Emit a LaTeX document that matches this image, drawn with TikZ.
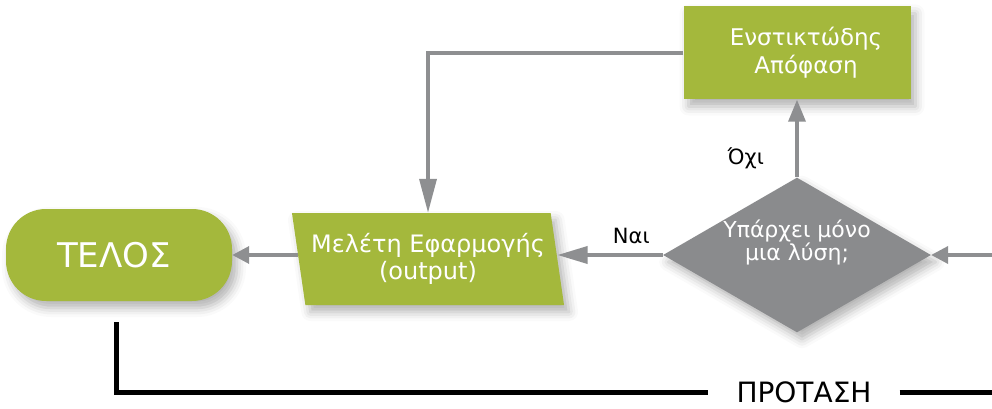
\documentclass[tikz,border=0pt]{standalone}
\usepackage{fontspec}
\setmainfont{DejaVu Sans}
\usetikzlibrary{shapes.geometric}
\usetikzlibrary{arrows.meta}
\usetikzlibrary{shadows.blur}
\definecolor{flowgreen}{HTML}{A4B83C}
\definecolor{flowgray}{HTML}{8A8B8D}
\definecolor{linegray}{HTML}{8E8F91}

\begin{document}
\begin{tikzpicture}[x=1pt, y=-1pt,
    softshadow/.style={blur shadow={shadow xshift=5pt, shadow yshift=-7pt, shadow blur radius=9pt, shadow opacity=30}},
    greenbox/.style={softshadow, fill=flowgreen, text=white, align=center, inner sep=0pt},
    flowarrow/.style={draw=linegray, line width=3.5pt, -{Triangle[length=#1, width=17pt, fill=linegray]}},
    flowarrow/.default=20pt,
    lbl/.style={font=\fontsize{21}{24}\selectfont, text=black},
    propline/.style={line width=5pt, black}]
    \useasboundingbox (0,0) rectangle (992,409);

    % shapes
    \node[greenbox, rounded corners=40pt, minimum width=226pt, minimum height=92pt,
          font=\fontsize{34}{38}\selectfont] (telos) at (119,255) {ΤΕΛΟΣ\hspace*{10pt}};
    \node[greenbox, trapezium, trapezium left angle=104, trapezium right angle=76,
          trapezium stretches=true, minimum width=273pt, minimum height=92pt,
          font=\fontsize{24}{27}\selectfont] (meleti) at (428,259) {Μελέτη Εφαρμογής\\(output)};
    \node[softshadow, diamond, aspect=1.73, fill=flowgray, text=white, align=center, inner sep=0pt,
          minimum width=267pt, minimum height=154pt,
          font=\fontsize{22}{23}\selectfont] (question) at (797,255) {Υπάρχει μόνο\\μια λύση;\\[6pt]};
    \node[greenbox, minimum width=227pt, minimum height=93pt,
          font=\fontsize{23}{28}\selectfont] (ensto) at (797,53) {\hspace*{18pt}Ενστικτώδης\\\hspace*{18pt}Απόφαση};
    \node[font=\fontsize{28}{31}\selectfont, inner xsep=28pt, inner ysep=0pt] (protasi) at (804,392) {ΠΡΟΤΑΣΗ};

    \coordinate (inflow) at (992,255);
    \coordinate (telosdrop) at (116,322);
    \coordinate (outflow) at (992,392);

    % connectors
    \draw[flowarrow=17pt] (meleti.west |- telos.east) -- (telos.east);
    \draw[flowarrow=30pt] (question.west) -- node[lbl, pos=0.3, above=6pt] {Ναι} (meleti.east |- question.west);
    \draw[flowarrow=17pt] (inflow) -- (question.east);
    \draw[flowarrow=22pt] (question.north) -- node[lbl, pos=0.24, left=28pt] {Όχι} (ensto.south);
    \draw[flowarrow=34pt] (ensto.west) -| (meleti.north);
    \draw[propline] (telosdrop) |- (protasi.west);
    \draw[propline] (protasi.east) -- (outflow);
\end{tikzpicture}
\end{document}
